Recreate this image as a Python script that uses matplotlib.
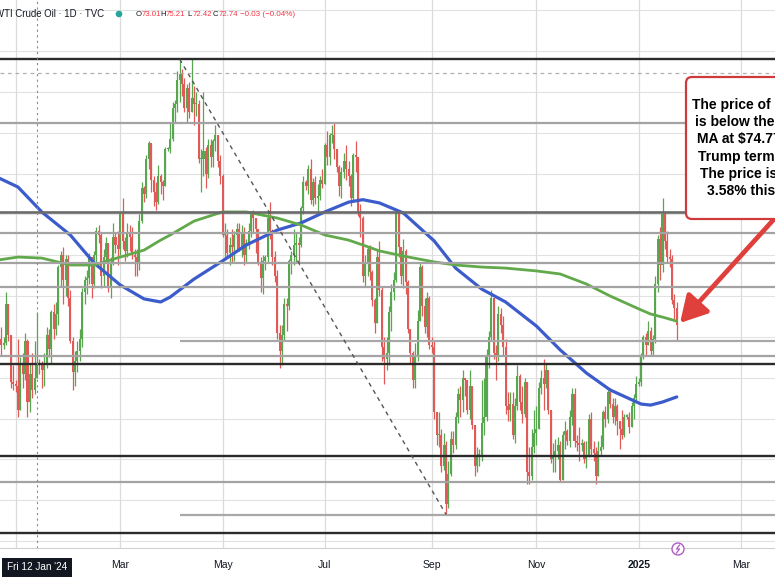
import numpy as np
import pandas as pd
import matplotlib
matplotlib.use('Agg')
import matplotlib.pyplot as plt
from matplotlib.patches import FancyBboxPatch, Circle
from matplotlib.lines import Line2D
from matplotlib.transforms import IdentityTransform

W, H = 775, 582

# # # # # # # # # # # # # # # # # # # # # # # # # # # # # # # # # # #
# daily bars (business days from 20 Dec 2023, one line per month)
first_open = 74.5
closes = [
    74.2, 73.9, 73.6, 73.7, 75.6, 74.1, 71.8, 71.7,
    71.6, 70.4, 72.7, 72.2, 73.8, 70.8, 72.2, 71.4, 72.0, 72.7, 72.6, 72.4, 72.6, 74.1, 73.4, 75.2, 74.4, 75.1, 77.4, 78.0, 76.8, 77.8, 75.9,
    73.8, 72.3, 72.8, 73.3, 73.9, 76.2, 76.8, 76.9, 77.9, 76.6, 78.0, 79.2, 79.0, 77.0, 77.9, 78.6, 76.5, 77.6, 78.9, 78.5, 78.3,
    80.0, 78.7, 78.2, 79.1, 78.9, 78.0, 77.9, 77.6, 79.7, 81.3, 81.0, 82.7, 83.5, 81.7, 81.1, 80.6, 81.9, 81.6, 81.4, 83.2, 83.2,
    83.7, 85.2, 85.4, 86.6, 86.9, 86.4, 85.2, 86.2, 85.0, 85.7, 85.4, 85.4, 82.7, 82.7, 83.1, 82.0, 83.4, 82.8, 83.6, 83.9, 82.6, 81.9,
    79.0, 79.0, 78.1, 78.5, 78.4, 79.0, 79.3, 78.3, 79.1, 78.0, 78.6, 79.2, 80.0, 79.8, 79.3, 77.6, 76.9, 77.7, 77.9, 79.8, 79.2, 77.9, 77.0,
    74.2, 73.3, 74.1, 75.6, 75.5, 77.7, 78.0, 78.5, 78.6, 78.5, 80.3, 81.6, 81.4, 82.2, 80.7, 81.6, 80.8, 80.9, 81.7, 81.5,
    83.4, 82.8, 83.9, 83.9, 83.2, 82.3, 81.4, 82.1, 82.6, 82.2, 81.9, 80.8, 82.9, 82.8, 80.1, 79.8, 77.0, 77.6, 78.3, 77.2, 75.8, 74.7, 77.9,
    76.3, 73.5, 72.9, 73.2, 75.2, 76.2, 76.8, 80.1, 78.4, 77.0, 78.2, 76.7, 74.4, 73.2, 71.9, 73.0, 74.8, 77.4, 75.5, 74.5, 75.9, 73.6,
    73.5, 70.3, 69.2, 69.2, 67.7, 68.7, 65.8, 67.3, 69.0, 68.7, 70.1, 71.2, 70.9, 72.0, 71.9, 70.4, 71.6, 69.7, 67.7, 68.2, 68.2,
    69.8, 70.1, 73.0, 74.0, 75.9, 73.2, 73.0, 75.1, 74.6, 73.5, 70.6, 70.4, 70.7, 69.2, 70.6, 72.1, 70.8, 70.2, 71.8, 67.4, 67.2, 68.6, 69.3,
    69.5, 71.5, 72.0, 71.7, 72.4, 70.4, 68.0, 68.1, 68.4, 68.7, 67.0, 69.2, 69.4, 68.9, 70.1, 71.2, 68.9, 68.8, 68.7, 68.8, 68.0,
    68.1, 70.0, 68.5, 68.3, 67.2, 68.4, 68.6, 70.3, 70.0, 71.3, 70.7, 70.1, 70.6, 69.9, 69.5, 69.2, 70.1, 70.1, 69.6, 70.6, 71.0, 71.7,
    71.8, 73.1, 74.0, 73.6, 74.3, 73.3, 73.9, 76.6, 78.8, 77.5, 80.0, 78.7, 77.9, 77.8, 75.8, 75.4, 74.6,
]
highs = [
    74.9, 74.6, 74.5, 74.0, 76.2, 75.6, 74.0, 72.6,
    71.9, 73.9, 73.0, 73.2, 74.2, 73.9, 72.7, 73.2, 73.8, 75.2, 72.9, 72.8, 73.2, 74.5, 74.4, 75.3, 75.6, 75.7, 77.5, 78.2, 78.4, 78.0, 78.0,
    76.3, 74.0, 73.3, 73.8, 74.4, 76.4, 77.0, 77.3, 78.1, 77.7, 78.2, 79.4, 79.5, 79.1, 78.3, 78.9, 78.5, 77.9, 79.6, 79.1, 79.2,
    80.1, 80.8, 78.9, 79.6, 79.5, 79.4, 78.3, 78.3, 80.0, 81.6, 81.4, 82.9, 83.6, 83.3, 81.9, 81.6, 82.4, 82.0, 81.7, 83.3, 83.3,
    84.5, 85.5, 85.6, 87.0, 87.6, 87.1, 86.7, 86.4, 86.5, 87.6, 86.3, 86.0, 85.6, 83.2, 86.0, 83.3, 83.7, 83.7, 83.7, 84.4, 83.8, 82.9,
    82.0, 79.6, 79.3, 78.9, 79.3, 79.2, 79.6, 79.6, 79.5, 79.4, 78.8, 79.6, 80.1, 80.2, 79.6, 79.2, 77.9, 78.0, 78.0, 80.1, 80.6, 79.3, 78.2,
    77.3, 74.6, 74.6, 75.9, 75.9, 77.8, 78.2, 79.3, 79.1, 78.9, 80.4, 81.9, 81.7, 82.4, 82.7, 81.8, 81.9, 81.5, 81.9, 82.2,
    83.5, 84.1, 84.0, 84.4, 84.5, 83.2, 82.4, 82.3, 83.0, 83.4, 82.6, 82.0, 83.0, 83.6, 82.7, 80.5, 79.9, 78.0, 78.4, 78.5, 77.3, 75.9, 78.3,
    78.7, 76.5, 74.0, 74.0, 75.5, 76.6, 77.2, 80.2, 80.0, 78.3, 78.8, 78.3, 76.8, 74.4, 73.3, 73.7, 75.3, 77.6, 77.5, 75.9, 76.2, 76.0,
    74.0, 73.8, 70.3, 70.3, 69.5, 69.3, 68.9, 67.9, 69.4, 69.4, 70.3, 71.5, 71.6, 72.4, 72.0, 71.9, 72.4, 71.6, 69.7, 68.6, 68.5,
    71.9, 72.0, 73.4, 74.3, 76.3, 75.8, 73.6, 75.5, 75.4, 75.0, 73.9, 71.3, 71.3, 71.3, 71.0, 72.6, 72.2, 71.6, 72.0, 69.9, 68.6, 69.5, 70.4,
    70.6, 71.8, 72.4, 72.9, 72.7, 72.2, 70.4, 68.8, 69.0, 69.1, 68.9, 69.4, 69.9, 69.5, 70.4, 71.5, 71.5, 69.2, 69.6, 69.0, 68.9,
    68.9, 70.2, 70.3, 68.9, 68.6, 68.9, 69.2, 70.4, 70.6, 71.4, 71.5, 71.0, 71.0, 70.7, 69.9, 70.4, 70.2, 70.2, 70.3, 70.8, 71.2, 72.1,
    72.0, 73.2, 74.1, 74.2, 74.8, 74.5, 74.1, 77.0, 79.0, 79.4, 80.8, 80.1, 79.2, 78.3, 78.0, 76.1, 75.7,
]
lows = [
    73.4, 72.9, 73.1, 73.4, 73.6, 73.8, 71.5, 71.4,
    71.3, 70.1, 70.5, 71.5, 71.9, 70.1, 70.3, 71.0, 71.2, 72.4, 72.2, 71.5, 71.6, 72.5, 73.0, 72.7, 73.9, 74.1, 74.6, 76.5, 75.6, 76.0, 75.5,
    73.7, 71.4, 71.6, 72.3, 72.8, 73.5, 75.6, 76.1, 76.6, 75.9, 76.4, 77.6, 78.6, 76.4, 76.5, 77.6, 76.2, 75.9, 77.5, 78.1, 77.5,
    78.0, 78.3, 77.7, 77.9, 78.2, 77.8, 77.0, 77.0, 77.3, 79.6, 80.6, 80.8, 82.2, 81.1, 80.4, 80.2, 80.5, 81.0, 80.7, 81.4, 83.1,
    83.0, 83.6, 84.5, 85.0, 85.5, 85.8, 85.0, 84.5, 84.7, 85.4, 84.4, 84.8, 82.5, 81.1, 81.9, 81.3, 81.8, 82.3, 82.3, 83.1, 82.3, 81.5,
    78.9, 77.9, 77.9, 77.5, 77.6, 77.7, 78.3, 78.2, 77.9, 77.5, 77.6, 78.3, 78.9, 79.1, 78.1, 77.5, 76.2, 76.1, 77.3, 77.6, 78.8, 77.5, 76.7,
    73.9, 72.5, 72.6, 73.8, 74.3, 75.3, 77.1, 77.5, 77.6, 77.5, 78.4, 80.0, 81.2, 81.0, 80.5, 80.4, 80.5, 80.0, 80.7, 81.3,
    81.5, 82.4, 82.4, 83.5, 82.7, 82.1, 80.9, 80.8, 81.8, 81.7, 81.4, 80.4, 80.7, 82.1, 79.9, 78.9, 76.7, 76.5, 77.0, 76.8, 75.5, 74.2, 74.9,
    76.0, 72.8, 71.7, 72.4, 72.6, 74.3, 75.8, 76.7, 77.9, 76.6, 76.4, 76.1, 74.2, 72.7, 71.5, 71.5, 72.8, 74.8, 75.0, 74.2, 74.0, 73.4,
    73.2, 70.0, 68.7, 68.6, 67.4, 67.5, 65.3, 65.6, 67.2, 68.3, 68.5, 69.8, 70.1, 70.3, 71.1, 70.2, 70.0, 69.5, 67.2, 67.4, 67.7,
    67.9, 69.2, 69.9, 72.5, 73.8, 72.9, 71.9, 72.8, 74.2, 73.1, 70.2, 69.9, 69.9, 69.0, 68.8, 70.4, 70.4, 69.8, 70.1, 66.8, 66.8, 67.0, 68.3,
    68.7, 69.6, 71.2, 70.4, 71.5, 70.2, 67.8, 67.4, 67.4, 68.0, 66.9, 67.1, 68.5, 68.7, 68.6, 69.7, 68.6, 68.4, 67.9, 68.4, 67.8,
    67.6, 68.1, 68.2, 67.9, 66.8, 67.3, 68.2, 68.5, 69.6, 69.8, 70.5, 69.8, 69.7, 69.2, 68.5, 69.0, 69.1, 70.0, 69.3, 69.6, 70.0, 70.8,
    71.6, 71.6, 72.9, 73.1, 73.6, 73.1, 73.1, 73.7, 76.2, 76.8, 77.2, 78.3, 77.6, 77.4, 75.6, 74.8, 73.8,
]

# moving averages
ma_dates = ['2023-12-21', '2024-01-02', '2024-01-16', '2024-02-01', '2024-02-15', '2024-03-01',
            '2024-03-15', '2024-03-26', '2024-04-01', '2024-04-15', '2024-05-01', '2024-05-15',
            '2024-06-03', '2024-06-17', '2024-07-01', '2024-07-15', '2024-07-23', '2024-08-01',
            '2024-08-15', '2024-09-03', '2024-09-16', '2024-10-01', '2024-10-15', '2024-11-01',
            '2024-11-15', '2024-12-02', '2024-12-16', '2025-01-02', '2025-01-08', '2025-01-15',
            '2025-01-23']
ma100 = [81.78, 81.34, 80.12, 78.99, 77.62, 76.54, 75.86, 75.71, 75.95, 76.83, 77.72, 78.50,
         79.23, 79.58, 80.12, 80.60, 80.72, 80.56, 80.07, 78.70, 77.37, 76.34, 75.71, 74.53,
         73.36, 72.23, 71.40, 70.71, 70.66, 70.81, 71.06]
ma200 = [77.77, 77.91, 77.86, 77.52, 77.52, 77.91, 78.25, 78.74, 78.99, 79.67, 80.12, 80.12,
         79.82, 79.48, 78.99, 78.74, 78.50, 78.21, 77.96, 77.67, 77.52, 77.42, 77.37, 77.23,
         77.08, 76.59, 76.00, 75.32, 75.12, 74.97, 74.77]

# drawn levels
dark_levels = [87.61, 72.67, 68.17, 64.40]
mid_levels = [80.12]
grey_levels = [84.47, 79.09, 77.62, 76.44, 73.07, 66.89]
short_levels = [73.80, 65.28]
short_from = '2024-04-05'
trend_dates = ['2024-04-05', '2024-09-10']
trend_prices = [87.6, 65.3]
cross_date = '2024-01-12'
cross_price = 86.92

month_starts = ['2024-01-01', '2024-03-01', '2024-05-01', '2024-07-01', '2024-09-01',
                '2024-11-01', '2025-01-01', '2025-03-01']
month_labels = ['', 'Mar', 'May', 'Jul', 'Sep', 'Nov', '2025', 'Mar']

box_lines = ['The price of crude oil', 'is below the 200 day', 'MA at $74.77 since the',
             'Trump term started.', 'The price is down', '3.58% this week']

# # # # # # # # # # # # # # # # # # # # # # # # # # # # # # # # # # #
full = pd.bdate_range('2023-12-20', '2025-04-30')
c = np.array(closes)
n = len(c)
pos = np.arange(n)
o = np.r_[first_open, c[:-1]]
hi = np.maximum(np.array(highs), np.maximum(o, c))
lo = np.minimum(np.array(lows), np.minimum(o, c))

def dpos(d):
    return full.searchsorted(pd.Timestamp(d))

def fx(x):
    return x / W

def fy(y):
    return 1 - y / H

fig = plt.figure(figsize=(W / 100, H / 100), dpi=100)
fig.patch.set_facecolor('white')
ax = fig.add_axes([0, 34 / H, 1, 548 / H])
ax.set_ylim(63.66, 90.50)
ax.set_xlim(1.44, 327.3)

# grid
for p in range(64, 91, 2):
    ax.axhline(p, color='#e2e2e2', lw=0.8, zorder=0)
tick_pos = [dpos(m) for m in month_starts]
for t in tick_pos:
    ax.axvline(t, color='#dcdcdc', lw=0.9, zorder=0)

# candles
up = c >= o
cols = np.where(up, '#58a64f', '#e05a58')
ax.vlines(pos, lo, hi, colors=cols, lw=0.9, zorder=2)
ax.bar(pos, np.maximum(np.abs(c - o), 0.06), bottom=np.minimum(o, c), width=0.85,
       color=cols, linewidth=0, zorder=2)

# moving averages
mpos = [dpos(d) for d in ma_dates]
ax.plot(mpos, ma100, color='#3c5ccc', lw=2.3, zorder=3, solid_capstyle='round')
ax.plot(mpos, ma200, color='#62a94b', lw=2.0, zorder=3, solid_capstyle='round')

# drawings
for p in dark_levels:
    ax.axhline(p, color='#2b2b2b', lw=1.7, zorder=4)
for p in mid_levels:
    ax.axhline(p, color='#6a6a6a', lw=1.9, zorder=4)
for p in grey_levels:
    ax.axhline(p, color='#a3a3a3', lw=1.6, zorder=4)
for p in short_levels:
    ax.hlines(p, dpos(short_from), 400, color='#a8a8a8', lw=1.6, zorder=4)
ax.plot([dpos(d) for d in trend_dates], trend_prices, color='#555555', lw=1.0,
        dashes=(3, 3), zorder=4)
ax.axvline(dpos(cross_date), color='#8a8a8a', lw=0.8, dashes=(2, 3), zorder=5)
ax.axhline(cross_price, color='#b0b0b0', lw=0.9, dashes=(3, 3), zorder=5)

# axes look
for s in ['top', 'left', 'right']:
    ax.spines[s].set_visible(False)
ax.spines['bottom'].set_color('#d0d0d0')
ax.set_yticks([])
ax.set_xticks(tick_pos)
ax.set_xticklabels(month_labels, fontsize=7.5, color='#131722', family='Liberation Sans')
ax.tick_params(axis='x', length=0, pad=9)
for lab in ax.get_xticklabels():
    if lab.get_text() == '2025':
        lab.set_fontweight('bold')

# crosshair date label
fig.text(fx(37), fy(567), "Fri 12 Jan '24", ha='center', va='center', color='white',
         fontsize=7.2, family='Liberation Sans',
         bbox=dict(boxstyle='square,pad=0.45', fc='#131722', ec='none'))

# header legend
fig.text(fx(-5), fy(14), 'WTI Crude Oil \u00b7 1D \u00b7 TVC', ha='left', va='center',
         fontsize=6.9, color='#131722', family='Liberation Sans')
fig.add_artist(Circle((119, H - 14), 2.6, transform=IdentityTransform(), color='#26a69a'))
ohlc = [('O', '73.01', 136), ('H', '75.21', 160), ('L', '72.42', 187), ('C', '72.74', 213)]
for lab, val, x in ohlc:
    fig.text(fx(x), fy(14), lab, ha='left', va='center', fontsize=5.6, color='#131722',
             family='Liberation Sans')
    fig.text(fx(x + 5.3), fy(14), val, ha='left', va='center', fontsize=5.6, color='#f23645',
             family='Liberation Sans')
fig.text(fx(240), fy(14), '\u22120.03 (\u22120.04%)', ha='left', va='center', fontsize=5.8,
         color='#f23645', family='Liberation Sans')

# annotation box and arrow
box = FancyBboxPatch((686, H - 219), 150, 142, boxstyle='round,pad=0,rounding_size=6',
                     transform=IdentityTransform(), fc='white', ec='#cf3a3c', lw=1.6,
                     zorder=10)
fig.add_artist(box)
starts = [692, 695, 697, 698, 700, 707]
for i, (s, x) in enumerate(zip(box_lines, starts)):
    fig.text(fx(x), fy(105 + i * 17.2), s, ha='left', va='center', fontsize=10,
             fontweight='bold', color='black', family='Liberation Sans', zorder=11)

ax.annotate('', xy=(680, H - 323), xycoords='figure pixels',
            xytext=(785, H - 207), textcoords='figure pixels',
            arrowprops=dict(arrowstyle='-|>,head_length=0.8,head_width=0.45',
                            color='#e0403c', lw=3.4, mutation_scale=20,
                            shrinkA=0, shrinkB=0),
            zorder=12)

# event marker
fig.add_artist(Circle((678, H - 549), 6, transform=IdentityTransform(), fc='white',
                      ec='#b05cc8', lw=1.0, zorder=12))
fig.add_artist(Line2D([679.5, 676.5, 679.5, 676.5], [H - 545, H - 549, H - 549, H - 553],
                      transform=IdentityTransform(), color='#b05cc8', lw=0.9, zorder=13))

fig.savefig('out.png', dpi=100)
